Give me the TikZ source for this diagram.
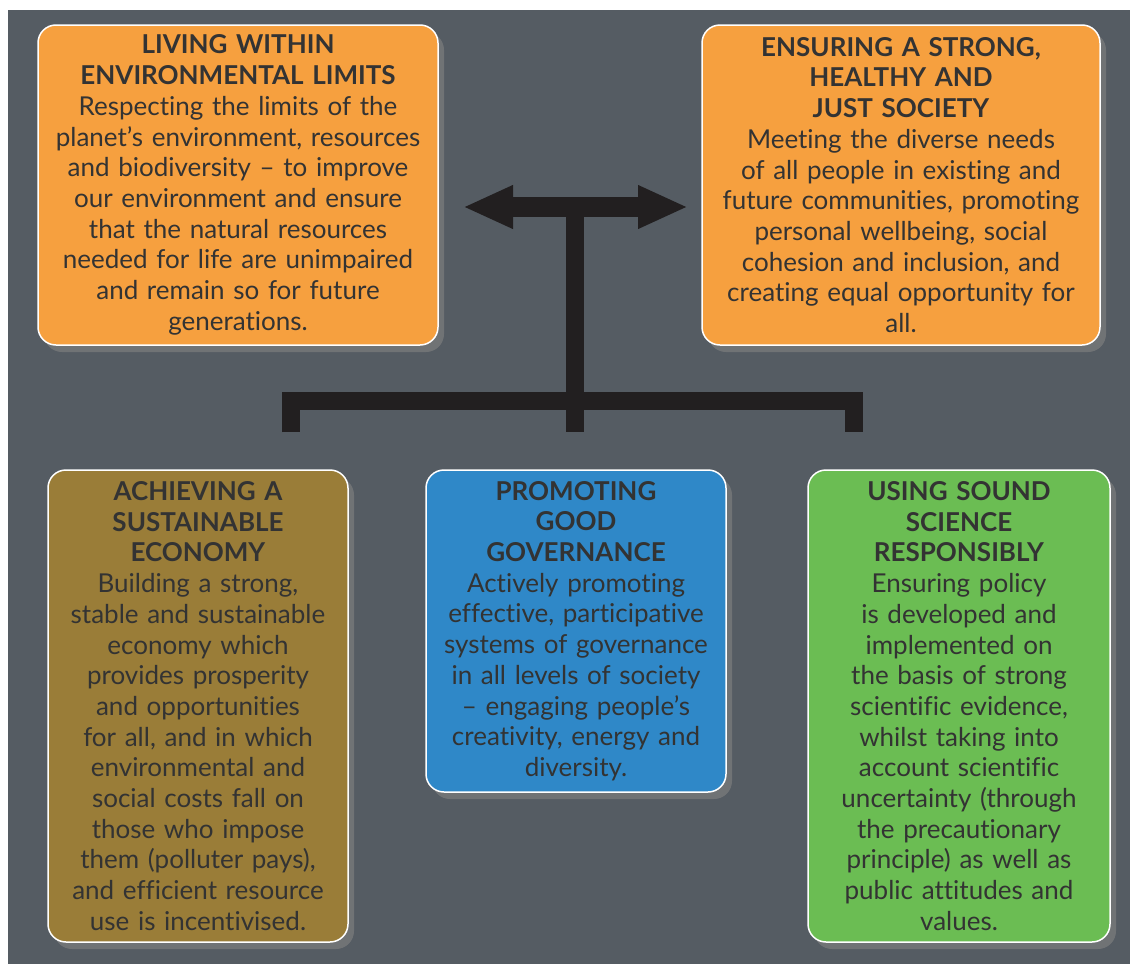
\documentclass[tikz,border=0pt]{standalone}
\usepackage{fontspec}
\setmainfont{Lato}[Ligatures=NoCommon]
\usepackage{xcolor}
\usepackage{tikz}
\usetikzlibrary{shadows}
\usetikzlibrary{arrows.meta}
\usetikzlibrary{positioning}

\definecolor{bggrey}{HTML}{555C63}
\definecolor{limitorange}{HTML}{F6A03F}
\definecolor{econolive}{HTML}{9A7D38}
\definecolor{govblue}{HTML}{2F88C8}
\definecolor{scigreen}{HTML}{6BBD53}
\definecolor{inkgrey}{HTML}{333333}
\definecolor{barblack}{HTML}{221F20}

\newcommand{\hd}[1]{\textbf{#1}}

\begin{document}
\begin{tikzpicture}[x=1pt, y=-1pt,
  goalbox/.style={rectangle, rounded corners=18pt, draw=white, line width=1.5pt, inner sep=0pt,
    align=center, text=inkgrey, font=\fontsize{26}{30.7}\selectfont,
    drop shadow={opacity=0.65, shadow xshift=6pt, shadow yshift=-7pt}},
  bar/.style={barblack, line width=18pt},
  barshade/.style={black, opacity=0.35, line width=18pt, xshift=6pt, yshift=-6pt}]
  \useasboundingbox (0,0) rectangle (1130,964);
  \fill[white] (0,0) rectangle (1130,964);
  \fill[bggrey] (8,10) rectangle (1130,964);

  % joints of the T
  \coordinate (arrL) at (463,207);
  \coordinate (arrR) at (688,207);
  \coordinate (hub)  at (575,207);
  \coordinate (mid)  at (575,401);
  \coordinate (legL) at (291,432);
  \coordinate (legM) at (575,432);
  \coordinate (legR) at (854,432);

  % shadows of the bars
  \draw[barshade] (hub) -- (mid);
  \draw[barshade] (legL) -- (legL |- mid) -- (legR |- mid) -- (legR);
  \draw[barshade] (mid) -- (legM);

  \draw[bar] (hub) -- (mid);
  \draw[bar, miter limit=10] (legL) -- (legL |- mid) -- (legR |- mid) -- (legR);
  \draw[bar] (mid) -- (legM);
  \draw[bar, line width=20pt, {Triangle[length=50pt, width=40pt]}-{Triangle[length=50pt, width=40pt]}] (arrL) -- (arrR);

  \node (limits) [goalbox, fill=limitorange, minimum width=400pt, minimum height=320pt, text width=396pt] at (238,185)
    {\hd{LIVING WITHIN}\\ \hd{ENVIRONMENTAL LIMITS}\\
     Respecting the limits of the\\ planet’s environment, resources\\ and biodiversity – to improve\\
     our environment and ensure\\ that the natural resources\\ needed for life are unimpaired\\
     and remain so for future\\ generations.};
  \node (society) [goalbox, fill=limitorange, minimum width=398pt, minimum height=320pt, text width=394pt] at (901,185)
    {\hd{ENSURING A STRONG,}\\ \hd{HEALTHY AND}\\ \hd{JUST SOCIETY}\\
     Meeting the diverse needs\\ of all people in existing and\\ future communities, promoting\\
     personal wellbeing, social\\ cohesion and inclusion, and\\ creating equal opportunity for\\ all.};
  \node (economy) [goalbox, fill=econolive, minimum width=300pt, minimum height=472pt, text width=296pt] at (198,706)
    {\hd{ACHIEVING A}\\ \hd{SUSTAINABLE}\\ \hd{ECONOMY}\\
     Building a strong,\\ stable and sustainable\\ economy which\\ provides prosperity\\
     and opportunities\\ for all, and in which\\ environmental and\\ social costs fall on\\
     those who impose\\ them (polluter pays),\\ and efficient resource\\ use is incentivised.};
  \node (governance) [goalbox, fill=govblue, minimum width=300pt, minimum height=322pt, text width=296pt] at (576,631)
    {\hd{PROMOTING}\\ \hd{GOOD}\\ \hd{GOVERNANCE}\\
     Actively promoting\\ effective, participative\\ systems of governance\\ in all levels of society\\
     – engaging people’s\\ creativity, energy and\\ diversity.};
  \node (science) [goalbox, fill=scigreen, minimum width=302pt, minimum height=472pt, text width=298pt] at (959,706)
    {\hd{USING SOUND}\\ \hd{SCIENCE}\\ \hd{RESPONSIBLY}\\
     Ensuring policy\\ is developed and\\ implemented on\\ the basis of strong\\
     scientific evidence,\\ whilst taking into\\ account scientific\\ uncertainty (through\\
     the precautionary\\ principle) as well as\\ public attitudes and\\ values.};
\end{tikzpicture}
\end{document}
